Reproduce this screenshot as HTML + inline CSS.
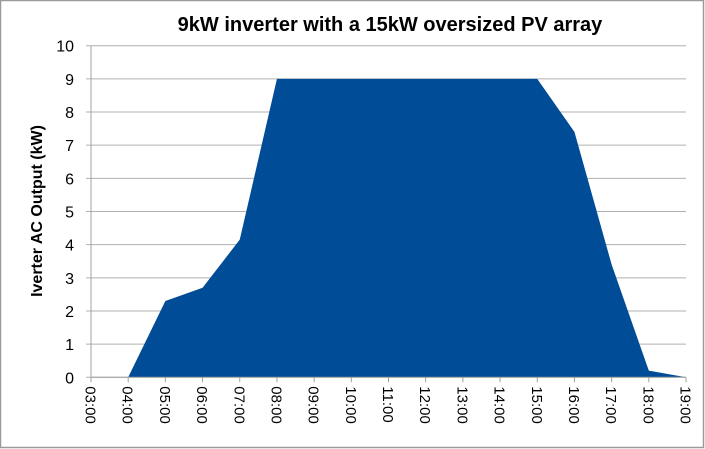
<!DOCTYPE html>
<html><head><meta charset="utf-8"><style>
html,body{margin:0;padding:0;background:#fff;}
svg{display:block;font-family:"Liberation Sans",sans-serif;}
</style></head><body>
<svg width="705" height="449" viewBox="0 0 705 449">
<rect x="0.5" y="0.5" width="703" height="447" fill="#fff" stroke="#9a9a9a" stroke-width="1.5"/>
<text x="390" y="31" text-anchor="middle" font-size="20" font-weight="bold" fill="#000">9kW inverter with a 15kW oversized PV array</text>
<text transform="translate(42,211) rotate(-90)" text-anchor="middle" font-size="16" font-weight="bold" fill="#000">Iverter AC Output (kW)</text>
<g id="grid"></g>
<path id="area" fill="#004C97"></path>
<g id="axes"></g>
</svg>
<script>
const categories=["03:00","04:00","05:00","06:00","07:00","08:00","09:00","10:00","11:00","12:00","13:00","14:00","15:00","16:00","17:00","18:00","19:00"];
const outputKW=[0,0,2.3,2.7,4.15,9,9,9,9,9,9,9,9,7.4,3.4,0.2,0];
const yTicks=[0,1,2,3,4,5,6,7,8,9,10];
const X0=91,X1=686,Y0=377.3,Y1=45.7,YMAX=10;
const xs=i=>X0+(X1-X0)*i/(categories.length-1);
const ys=v=>Y0-(Y0-Y1)*v/YMAX;
const NS="http://www.w3.org/2000/svg";
const grid=document.getElementById('grid'),axes=document.getElementById('axes');
function mk(tag,attrs,parent){const e=document.createElementNS(NS,tag);for(const k in attrs)e.setAttribute(k,attrs[k]);parent.appendChild(e);return e;}
yTicks.forEach(t=>{
  const y=ys(t);
  const l=mk('line',{x1:X0-5,x2:X1,y1:y,y2:y,stroke:'#b0b0b0','stroke-width':1},grid);
  
  
  const tx=mk('text',{x:74,y:y+6,'text-anchor':'end','font-size':16,fill:'#000'},axes);
  tx.textContent=t;
  
  
});
let d='M'+xs(0)+','+ys(0);
outputKW.forEach((v,i)=>{d+=' L'+xs(i)+','+ys(v);});
d+=' L'+xs(outputKW.length-1)+','+ys(0)+' Z';
document.getElementById('area').setAttribute('d',d);
const ya=mk('line',{x1:X0,x2:X0,y1:Y1,y2:Y0,stroke:'#a0a0a0','stroke-width':1},axes);


const xa=mk('line',{x1:X0,x2:X1,y1:Y0,y2:Y0,stroke:'#a0a0a0','stroke-width':1},axes);


categories.forEach((c,i)=>{
  const x=xs(i);
  const tk=mk('line',{x1:x,x2:x,y1:Y0,y2:Y0+5,stroke:'#a0a0a0','stroke-width':1},axes);
  
  
  const tx=mk('text',{transform:'translate('+(x-5.5)+','+(Y0+9)+') rotate(90)','font-size':15,fill:'#000'},axes);
  tx.textContent=c;
  
  
});
</script>
</body></html>
